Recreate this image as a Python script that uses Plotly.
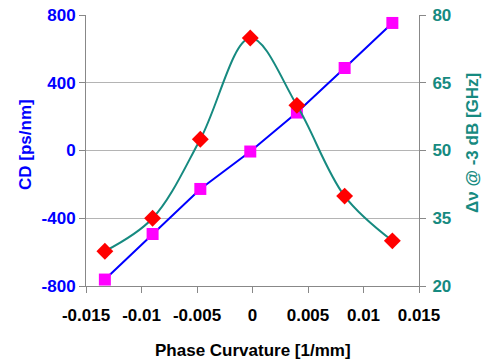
import plotly.graph_objects as go

phase_cd = [-0.0133, -0.0090, -0.0047, -0.0002, 0.0040, 0.0083, 0.0126]
cd_values = [-762, -493, -227, -6, 224, 487, 753]

phase_bw = [-0.0133, -0.0090, -0.0047, -0.0002, 0.0040, 0.0083, 0.0126]
bw_values = [27.7, 35.0, 52.5, 74.9, 60.0, 39.9, 30.0]

x_ticks = [-0.015, -0.01, -0.005, 0, 0.005, 0.01, 0.015]
x_tick_labels = ["-0.015", "-0.01", "-0.005", "0", "0.005", "0.01", "0.015"]
y1_ticks = [-800, -400, 0, 400, 800]
y1_tick_labels = ["-800", "-400", "0", "400", "800"]
y2_ticks = [20, 35, 50, 65, 80]

font_family = "Liberation Sans, Arial, sans-serif"
blue = "#0000FF"
teal = "#168A80"
W, H = 482, 360
L, R, T, B = 86, 63, 15, 74

fig = go.Figure()
fig.add_trace(go.Scatter(
    x=phase_cd, y=cd_values, mode="lines+markers",
    line=dict(color=blue, width=2),
    marker=dict(symbol="square", size=12, color="#FF00FF"),
    showlegend=False, yaxis="y"))
fig.add_trace(go.Scatter(
    x=phase_bw, y=bw_values, mode="lines+markers",
    line=dict(color=teal, width=2, shape="spline", smoothing=1),
    marker=dict(symbol="diamond", size=13, color="#FF0000"),
    showlegend=False, yaxis="y2"))

tick_common = dict(ticks="outside", ticklen=6, tickcolor="#888888",
                   showline=True, linecolor="#888888", linewidth=1,
                   zeroline=False, automargin=False)

fig.update_layout(
    width=W, height=H,
    margin=dict(l=L, r=R, t=T, b=B, autoexpand=False),
    plot_bgcolor="white", paper_bgcolor="white",
    font=dict(family=font_family, size=17),
    xaxis=dict(
        range=[-0.015, 0.015], tickvals=x_ticks, ticktext=x_tick_labels,
        showgrid=False, ticklabelstandoff=8,
        tickfont=dict(size=17, color="black", family=font_family, weight="bold"),
        **tick_common,
    ),
    yaxis=dict(
        range=[-800, 800], tickvals=y1_ticks, ticktext=y1_tick_labels,
        showgrid=True, gridcolor="#B4B4B4", gridwidth=1,
        tickfont=dict(size=17, color=blue, family=font_family, weight="bold"),
        **tick_common,
    ),
    yaxis2=dict(
        range=[20, 80], tickvals=y2_ticks, overlaying="y", side="right",
        showgrid=False, ticklabelstandoff=3,
        tickfont=dict(size=17, color=teal, family=font_family, weight="bold"),
        **tick_common,
    ),
    annotations=[
        dict(text="<b>Phase Curvature [1/mm]</b>", xref="paper", yref="paper",
             x=0.5, y=-(350 - (H - B)) / (H - T - B), xanchor="center", yanchor="middle",
             showarrow=False, font=dict(size=17, color="black", family=font_family)),
        dict(text="<b>CD [ps/nm]</b>", xref="paper", yref="paper",
             x=-(L - 25) / (W - L - R), y=(H - B - 145) / (H - T - B),
             xanchor="center", yanchor="middle", textangle=-90,
             showarrow=False, font=dict(size=17, color=blue, family=font_family)),
        dict(text="<b>Δν @ -3 dB [GHz]</b>", xref="paper", yref="paper",
             x=1 + (472 - (W - R)) / (W - L - R), y=(H - B - 143) / (H - T - B),
             xanchor="center", yanchor="middle", textangle=-90,
             showarrow=False, font=dict(size=17, color=teal, family=font_family)),
    ],
)

fig.write_html(
    "out.html",
    config={"displayModeBar": False},
    post_script="document.body.style.margin='0';document.body.style.padding='0';"
                "document.documentElement.style.overflow='hidden';",
)
